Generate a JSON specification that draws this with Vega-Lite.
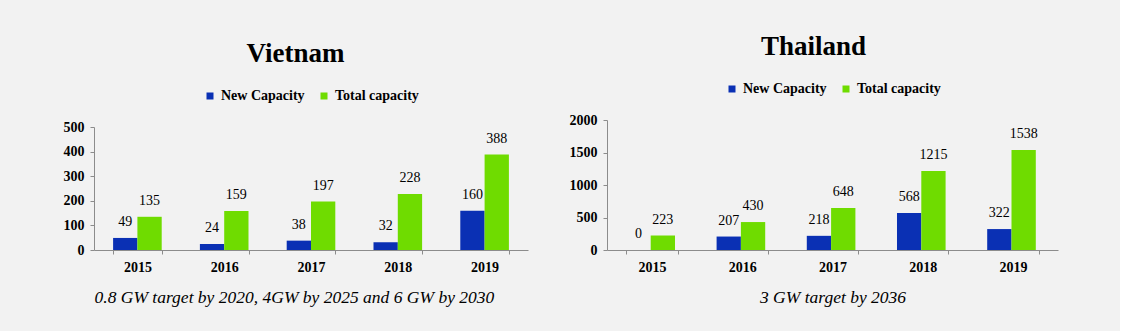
{
  "$schema": "https://vega.github.io/schema/vega-lite/v6.json",
  "background": "#f2f2f2",
  "padding": {"left": 63, "top": 33, "right": 62, "bottom": 26},
  "spacing": 41,
  "datasets": {
    "vn": [
      {"year": "2015", "series": "New Capacity", "value": 49},
      {"year": "2015", "series": "Total capacity", "value": 135},
      {"year": "2016", "series": "New Capacity", "value": 24},
      {"year": "2016", "series": "Total capacity", "value": 159},
      {"year": "2017", "series": "New Capacity", "value": 38},
      {"year": "2017", "series": "Total capacity", "value": 197},
      {"year": "2018", "series": "New Capacity", "value": 32},
      {"year": "2018", "series": "Total capacity", "value": 228},
      {"year": "2019", "series": "New Capacity", "value": 160},
      {"year": "2019", "series": "Total capacity", "value": 388}
    ],
    "th": [
      {"year": "2015", "series": "New Capacity", "value": 0},
      {"year": "2015", "series": "Total capacity", "value": 223},
      {"year": "2016", "series": "New Capacity", "value": 207},
      {"year": "2016", "series": "Total capacity", "value": 430},
      {"year": "2017", "series": "New Capacity", "value": 218},
      {"year": "2017", "series": "Total capacity", "value": 648},
      {"year": "2018", "series": "New Capacity", "value": 568},
      {"year": "2018", "series": "Total capacity", "value": 1215},
      {"year": "2019", "series": "New Capacity", "value": 322},
      {"year": "2019", "series": "Total capacity", "value": 1538}
    ]
  },
  "config": {
    "font": "Liberation Serif",
    "view": {"stroke": null},
    "axis": {
      "domainColor": "#8c8c8c",
      "tickColor": "#8c8c8c",
      "labelColor": "#000000",
      "labelFont": "Liberation Serif",
      "labelFontWeight": "bold",
      "labelFontSize": 14,
      "tickSize": 4,
      "grid": false
    },
    "legend": {
      "orient": "top",
      "direction": "horizontal",
      "title": null,
      "symbolType": "square",
      "symbolSize": 49,
      "symbolStrokeWidth": 0,
      "labelFont": "Liberation Serif",
      "labelFontWeight": "bold",
      "labelFontSize": 14,
      "labelColor": "#000000",
      "labelOffset": 4,
      "columnPadding": 12,
      "layout": {"top": {"anchor": "middle"}}
    },
    "title": {
      "font": "Liberation Serif",
      "fontSize": 27,
      "fontWeight": "bold",
      "color": "#000000",
      "anchor": "middle"
    }
  },
  "resolve": {"scale": {"color": "independent"}, "legend": {"color": "independent"}},
  "hconcat": [
    {
      "width": 434,
      "height": 130,
      "title": {"text": "Vietnam", "offset": 21, "frame": "bounds"},
      "data": {"name": "vn"},
      "encoding": {
        "x": {
          "field": "year", "type": "nominal",
          "scale": {"paddingInner": 0.44, "paddingOuter": 0.22},
          "axis": {
            "labelAngle": 0, "tickBand": "extent", "labelPadding": 6,
            "title": "0.8 GW target by 2020, 4GW by 2025 and 6 GW by 2030",
            "titleFont": "Liberation Serif", "titleFontStyle": "italic", "titleFontWeight": "normal",
            "titleFontSize": 17.5, "titleColor": "#000000", "titleAnchor": "start", "titlePadding": 14
          }
        },
        "xOffset": {"field": "series", "type": "nominal", "sort": ["New Capacity", "Total capacity"]},
        "y": {
          "field": "value", "type": "quantitative",
          "scale": {"domain": [0, 500], "range": [130, 7]},
          "axis": {"title": null, "values": [0, 100, 200, 300, 400, 500], "format": "d", "labelPadding": 6}
        }
      },
      "layer": [
        {
          "mark": {"type": "bar"},
          "encoding": {
            "color": {
              "field": "series", "type": "nominal",
              "scale": {"domain": ["New Capacity", "Total capacity"], "range": ["#0a30b4", "#6fdc00"]},
              "legend": {"offset": 17}
            }
          }
        },
        {
          "mark": {"type": "text", "baseline": "bottom", "dy": -9, "fontSize": 14, "font": "Liberation Serif", "color": "#000000"},
          "encoding": {"text": {"field": "value", "type": "quantitative"}}
        }
      ]
    },
    {
      "width": 451,
      "height": 130,
      "title": {"text": "Thailand", "offset": 21, "frame": "bounds"},
      "data": {"name": "th"},
      "encoding": {
        "x": {
          "field": "year", "type": "nominal",
          "scale": {"paddingInner": 0.43, "paddingOuter": 0.215},
          "axis": {
            "labelAngle": 0, "tickBand": "extent", "labelPadding": 6,
            "title": "3 GW target by 2036",
            "titleFont": "Liberation Serif", "titleFontStyle": "italic", "titleFontWeight": "normal",
            "titleFontSize": 17.5, "titleColor": "#000000", "titlePadding": 14
          }
        },
        "xOffset": {"field": "series", "type": "nominal", "sort": ["New Capacity", "Total capacity"]},
        "y": {
          "field": "value", "type": "quantitative",
          "scale": {"domain": [0, 2000]},
          "axis": {"title": null, "values": [0, 500, 1000, 1500, 2000], "format": "d", "labelPadding": 6}
        }
      },
      "layer": [
        {
          "mark": {"type": "bar"},
          "encoding": {
            "color": {
              "field": "series", "type": "nominal",
              "scale": {"domain": ["New Capacity", "Total capacity"], "range": ["#0a30b4", "#6fdc00"]},
              "legend": {"offset": 24}
            }
          }
        },
        {
          "mark": {"type": "text", "baseline": "bottom", "dy": -9, "fontSize": 14, "font": "Liberation Serif", "color": "#000000"},
          "encoding": {"text": {"field": "value", "type": "quantitative"}}
        }
      ]
    }
  ]
}
